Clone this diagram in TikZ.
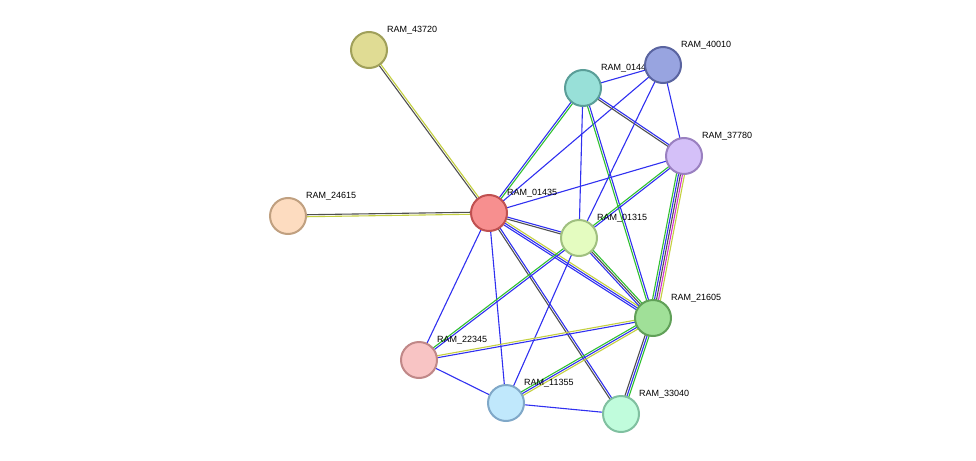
\documentclass[tikz,border=0pt]{standalone}
\usepackage{fontspec}
\setmainfont{Liberation Sans}
\usetikzlibrary{calc}
\definecolor{eBlue}{HTML}{3030F0}
\definecolor{eGreen}{HTML}{30C030}
\definecolor{eBlack}{HTML}{505050}
\definecolor{eYellow}{HTML}{C4D040}
\definecolor{eMag}{HTML}{D030D0}
\tikzset{
  nS/.style={circle,minimum size=36pt,inner sep=0pt,line width=2pt},
  lS/.style={anchor=south west,inner sep=0pt,font=\fontsize{9}{10}\selectfont},
  eS/.style={line width=1.1pt}
}
% multi-coloured edge: from, to, number of lines, colours
\newcommand\sedge[4]{%
  \foreach \c [count=\i] in {#4}{%
    \pgfmathsetmacro\o{(\i-(#3+1)/2)*2}
    \draw[eS,\c] ($(#1)!\o pt!90:(#2)$) -- ($(#2)!\o pt!-90:(#1)$);
  }}
\begin{document}
\begin{tikzpicture}[x=1pt,y=-1pt]
\useasboundingbox (0,0) rectangle (976,460);
% positions
\coordinate (p43720) at (369,50);
\coordinate (p24615) at (288,216);
\coordinate (p01435) at (489,213);
\coordinate (p01xx) at (583,88);
\coordinate (p40010) at (663,65);
\coordinate (p37780) at (684,156);
\coordinate (p01315) at (579,238);
\coordinate (p21605) at (653,318);
\coordinate (p22345) at (419,360);
\coordinate (p11355) at (506,403);
\coordinate (p33040) at (621,414);
% edges
\sedge{p43720}{p01435}{2}{eBlack,eYellow}
\sedge{p24615}{p01435}{2}{eYellow,eBlack}
\sedge{p01435}{p01xx}{2}{eGreen,eBlue}
\sedge{p01435}{p40010}{1}{eBlue}
\sedge{p01435}{p37780}{1}{eBlue}
\sedge{p01435}{p01315}{2}{eBlack,eBlue}
\sedge{p01435}{p21605}{3}{eBlue,eBlue,eYellow}
\sedge{p01435}{p33040}{2}{eBlack,eBlue}
\sedge{p01435}{p11355}{1}{eBlue}
\sedge{p01435}{p22345}{1}{eBlue}
\sedge{p01xx}{p40010}{1}{eBlue}
\sedge{p01xx}{p37780}{2}{eBlack,eBlue}
\sedge{p01xx}{p01315}{1}{eBlue}
\sedge{p01xx}{p21605}{2}{eGreen,eBlue}
\sedge{p40010}{p37780}{1}{eBlue}
\sedge{p40010}{p01315}{1}{eBlue}
\sedge{p37780}{p01315}{2}{eGreen,eBlue}
\sedge{p37780}{p21605}{5}{eGreen,eBlue,eBlack,eMag,eYellow}
\sedge{p01315}{p21605}{3}{eBlue,eBlack,eGreen}
\sedge{p01315}{p22345}{2}{eGreen,eBlue}
\sedge{p01315}{p11355}{1}{eBlue}
\sedge{p21605}{p22345}{2}{eYellow,eBlue}
\sedge{p21605}{p11355}{3}{eGreen,eBlue,eYellow}
\sedge{p21605}{p33040}{3}{eBlack,eBlue,eGreen}
\sedge{p22345}{p11355}{1}{eBlue}
\sedge{p11355}{p33040}{1}{eBlue}
% nodes and labels
\node[nS,fill={rgb,255:red,224;green,220;blue,148},draw={rgb,255:red,160;green,160;blue,90}] (n43720) at (p43720) {};
\node[lS] at ($(n43720)+(18,-16)$) {RAM\_43720};
\node[nS,fill={rgb,255:red,253;green,220;blue,192},draw={rgb,255:red,192;green,160;blue,128}] (n24615) at (p24615) {};
\node[lS] at ($(n24615)+(18,-16)$) {RAM\_24615};
\node[nS,fill={rgb,255:red,247;green,143;blue,143},draw={rgb,255:red,192;green,80;blue,80}] (n01435) at (p01435) {};
\node[lS] at ($(n01435)+(18,-16)$) {RAM\_01435};
\node[nS,fill={rgb,255:red,152;green,224;blue,216},draw={rgb,255:red,90;green,158;blue,152}] (n01xx) at (p01xx) {};
\node[lS] at ($(n01xx)+(18,-16)$) {RAM\_01445};
\node[nS,fill={rgb,255:red,152;green,164;blue,224},draw={rgb,255:red,90;green,100;blue,160}] (n40010) at (p40010) {};
\node[lS] at ($(n40010)+(18,-16)$) {RAM\_40010};
\node[nS,fill={rgb,255:red,212;green,192;blue,248},draw={rgb,255:red,154;green,128;blue,192}] (n37780) at (p37780) {};
\node[lS] at ($(n37780)+(18,-16)$) {RAM\_37780};
\node[nS,fill={rgb,255:red,228;green,252;blue,192},draw={rgb,255:red,160;green,192;blue,128}] (n01315) at (p01315) {};
\node[lS] at ($(n01315)+(18,-16)$) {RAM\_01315};
\node[nS,fill={rgb,255:red,160;green,224;blue,152},draw={rgb,255:red,96;green,160;blue,88}] (n21605) at (p21605) {};
\node[lS] at ($(n21605)+(18,-16)$) {RAM\_21605};
\node[nS,fill={rgb,255:red,248;green,196;blue,196},draw={rgb,255:red,192;green,136;blue,136}] (n22345) at (p22345) {};
\node[lS] at ($(n22345)+(18,-16)$) {RAM\_22345};
\node[nS,fill={rgb,255:red,192;green,232;blue,252},draw={rgb,255:red,128;green,168;blue,200}] (n11355) at (p11355) {};
\node[lS] at ($(n11355)+(18,-16)$) {RAM\_11355};
\node[nS,fill={rgb,255:red,192;green,252;blue,220},draw={rgb,255:red,128;green,192;blue,160}] (n33040) at (p33040) {};
\node[lS] at ($(n33040)+(18,-16)$) {RAM\_33040};
\end{tikzpicture}
\end{document}
